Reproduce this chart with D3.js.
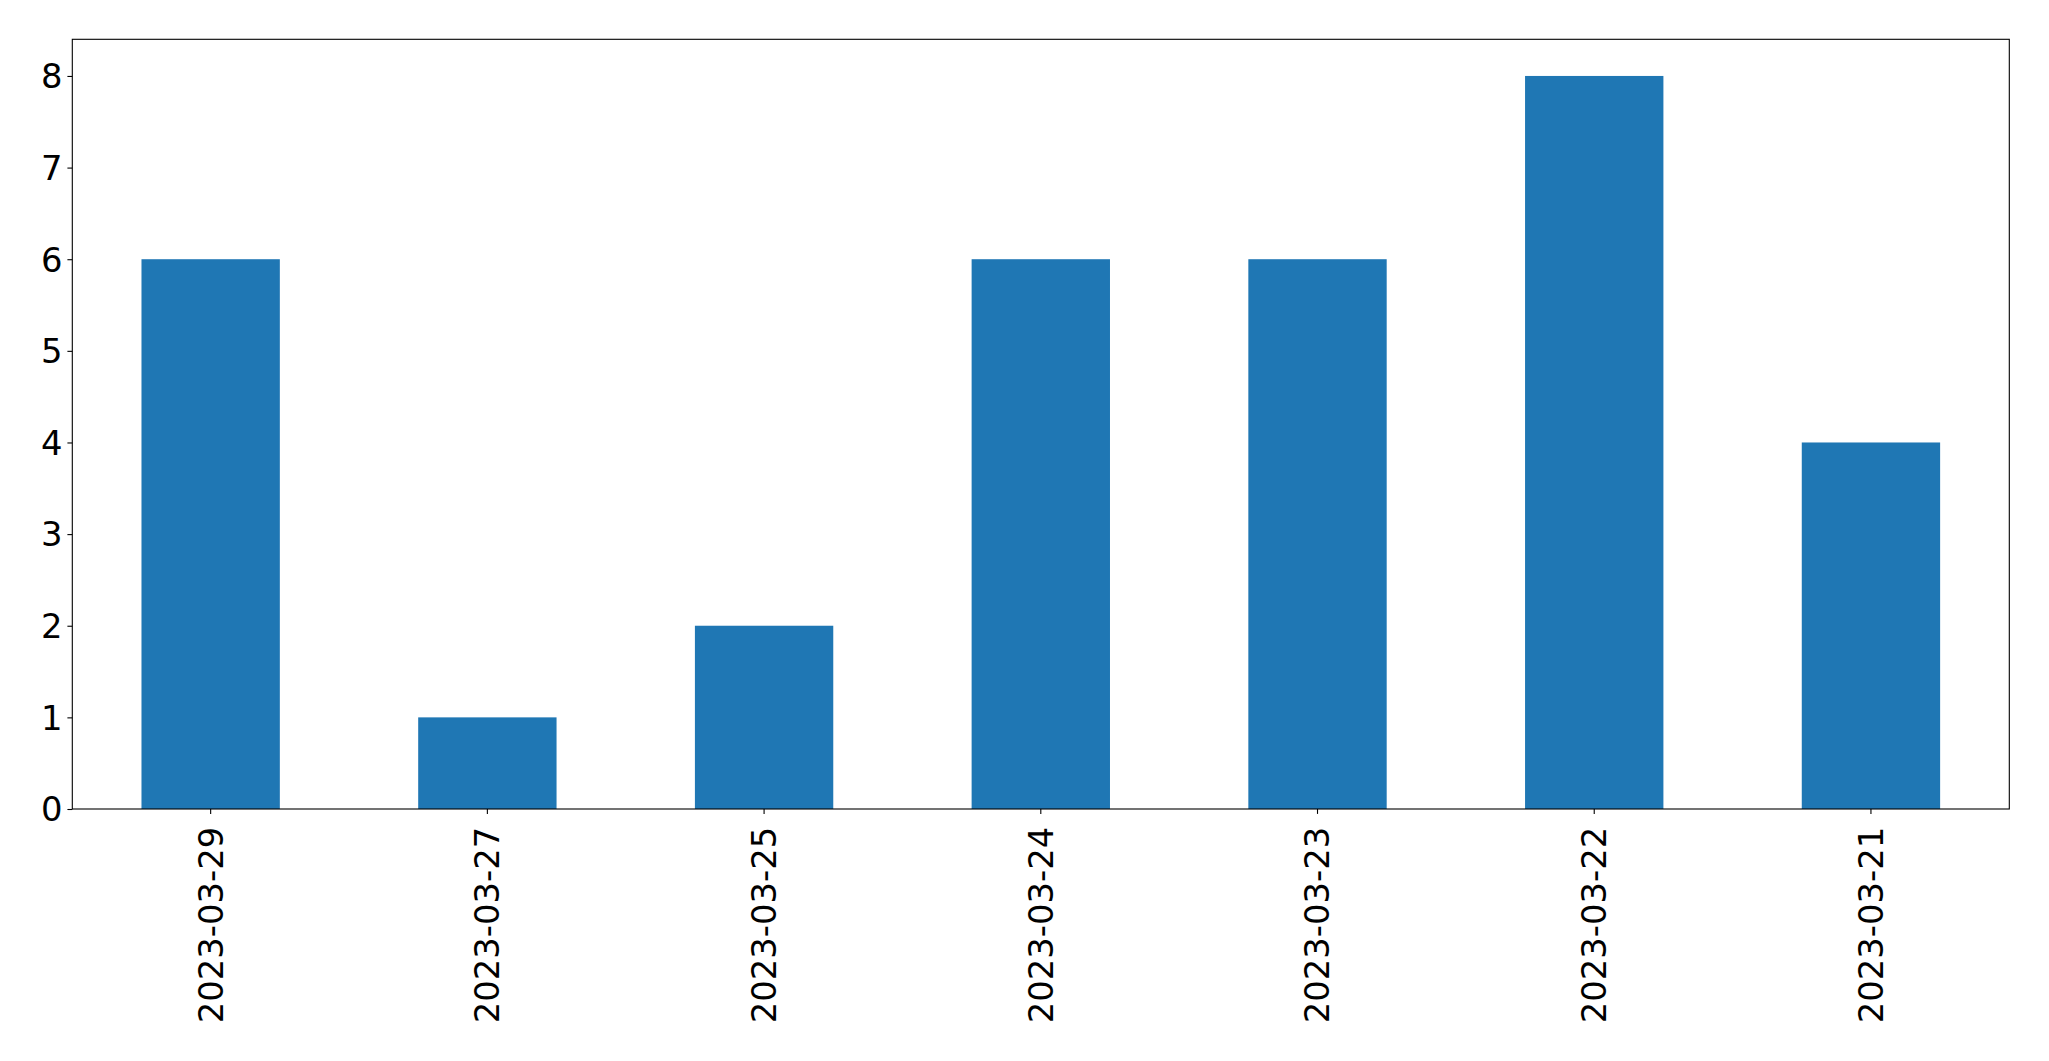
<!DOCTYPE html>
<html>
<head>
<meta charset="utf-8">
<script src="https://cdn.jsdelivr.net/npm/d3@7"></script>
<style>
  html, body { margin: 0; padding: 0; background: #fff; }
  svg { display: block; }
  text { font-family: "DejaVu Sans", sans-serif; fill: #000; }
</style>
</head>
<body>
<svg id="chart" width="2049" height="1061"></svg>
<script>
const categories = ["2023-03-29", "2023-03-27", "2023-03-25", "2023-03-24", "2023-03-23", "2023-03-22", "2023-03-21"];
const values = [6, 1, 2, 6, 6, 8, 4];
const yTicks = [0, 1, 2, 3, 4, 5, 6, 7, 8];

const W = 2049, H = 1061;
const margin = { left: 72.3, right: W - 2009.3, top: 39.3, bottom: H - 809 };
const svg = d3.select("#chart");
const fontSize = 33.8;
const tickLen = 4.9, pad = 4.9;

const x = d3.scaleBand().domain(categories).range([margin.left, W - margin.right]).paddingInner(0.5).paddingOuter(0.25);
const y = d3.scaleLinear().domain([0, 8.4]).range([H - margin.bottom, margin.top]);

// bars
svg.append("g").selectAll("rect").data(values).join("rect")
  .attr("x", (d, i) => x(categories[i]))
  .attr("y", d => y(d))
  .attr("width", x.bandwidth())
  .attr("height", d => y(0) - y(d))
  .attr("fill", "#1f77b4");

// y axis
const yAxis = d3.axisLeft(y).tickValues(yTicks).tickFormat(d3.format("d")).tickSize(tickLen).tickPadding(pad);
const gy = svg.append("g").attr("transform", `translate(${margin.left},0)`).call(yAxis);
gy.select(".domain").remove();
gy.selectAll("line").attr("stroke", "#000").attr("stroke-width", 1.1);
gy.selectAll("text").attr("font-size", fontSize).attr("font-family", "DejaVu Sans").attr("dy", "0.35em");

// x axis
const xAxis = d3.axisBottom(x).tickSize(tickLen).tickPadding(pad);
const gx = svg.append("g").attr("transform", `translate(0,${H - margin.bottom})`).call(xAxis);
gx.select(".domain").remove();
gx.selectAll("line").attr("stroke", "#000").attr("stroke-width", 1.1);
gx.selectAll("text")
  .attr("font-size", fontSize).attr("font-family", "DejaVu Sans")
  .attr("text-anchor", "end")
  .attr("x", 0).attr("y", 0)
  .attr("dy", "0.35em")
  .attr("transform", `translate(0,${tickLen + pad + 8}) rotate(-90)`);

// frame
svg.append("rect")
  .attr("x", margin.left).attr("y", margin.top)
  .attr("width", W - margin.left - margin.right)
  .attr("height", H - margin.top - margin.bottom)
  .attr("fill", "none").attr("stroke", "#000").attr("stroke-width", 1.1);
</script>
</body>
</html>
